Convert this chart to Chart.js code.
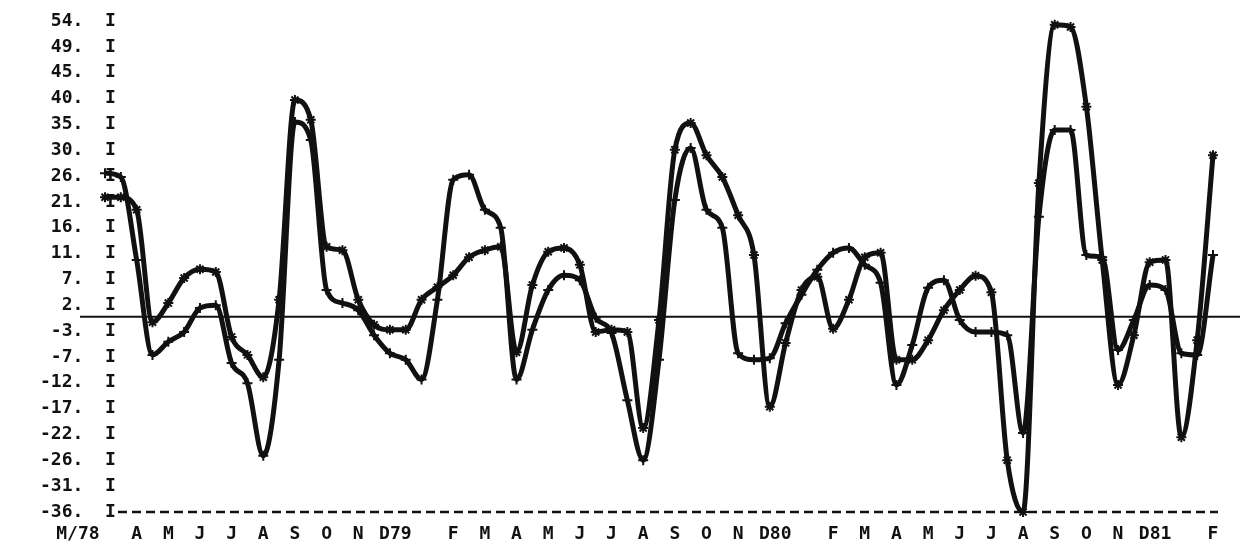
<!DOCTYPE html>
<html>
<head>
<meta charset="utf-8">
<script src="https://cdn.jsdelivr.net/npm/chart.js@4/dist/chart.umd.min.js"></script>
<style>
  html, body { margin: 0; padding: 0; background: #fff; }
  #wrap { width: 1244px; height: 558px; }
</style>
</head>
<body>
<div id="wrap"><canvas id="chart" width="1244" height="558"></canvas></div>
<script>
// === Monthly change plot, M/78 .. F/81 (line printer style) ===

// month labels, one per month (January has no letter, the year sits on D)
const monthLabels = ['M/78', 'A', 'M', 'J', 'J', 'A', 'S', 'O', 'N', 'D79', '', 'F',
  'M', 'A', 'M', 'J', 'J', 'A', 'S', 'O', 'N', 'D80', '', 'F',
  'M', 'A', 'M', 'J', 'J', 'A', 'S', 'O', 'N', 'D81', '', 'F'];

// printed scale rows, top to bottom
const yTickLabels = ['54.', '49.', '45.', '40.', '35.', '30.', '26.', '21.', '16.', '11.',
  '7.', '2.', '-3.', '-7.', '-12.', '-17.', '-22.', '-26.', '-31.', '-36.'];

// readings every half month (month index = position / 2)
const seriesStar = [21.9, 21.9, 19.6, -1.0, 2.5, 7.1, 8.7, 8.2, -3.7, -7.0,
  -11.1, 3.1, 39.7, 36.1, 12.8, 12.2, 3.1, -1.5, -2.4, -2.4,
  3.1, 5.4, 7.6, 10.9, 12.2, 12.8, -6.5, 5.8, 11.9, 12.6,
  9.5, -2.8, -2.4, -2.8, -20.4, -0.6, 30.6, 35.5, 29.6, 25.6,
  18.6, 11.3, -16.5, -4.8, 4.9, 7.3, -2.2, 3.1, 10.9, 11.7,
  -7.9, -7.9, -4.3, 1.2, 4.9, 7.5, 4.5, -26.3, -35.8, 24.5,
  53.5, 53.1, 38.5, 10.4, -12.5, -3.4, 10.0, 10.4, -22.1, -4.3,
  29.6];

const seriesPlus = [26.3, 25.6, 10.4, -7.0, -4.6, -2.8, 1.6, 2.1, -8.5, -12.2,
  -25.5, -7.9, 35.7, 32.4, 4.9, 2.5, 1.2, -3.4, -6.7, -7.9,
  -11.5, 3.1, 25.1, 26.0, 19.6, 16.3, -11.5, -2.4, 4.9, 7.6,
  6.7, -0.2, -3.0, -15.3, -26.3, -7.9, 21.4, 30.9, 19.6, 16.3,
  -6.7, -7.9, -7.6, -1.2, 4.0, 8.6, 11.7, 12.6, 9.5, 6.2,
  -12.5, -5.2, 5.3, 6.7, -0.6, -2.8, -2.8, -3.4, -21.3, 18.3,
  34.2, 34.2, 11.3, 10.9, -6.1, -0.6, 5.8, 4.9, -6.7, -7.0,
  11.3];

const Y_MAX = 54.2;
const Y_MIN = -35.8;
const INK = '#111';
const FONT = { family: "'DejaVu Sans Mono', 'Liberation Mono', monospace", size: 18, weight: 'bold' };

const toPoints = (vals) => vals.map((v, i) => ({ x: i / 2, y: v }));

// zero line and dashed base line, like the printer drew them
const printerLines = {
    id: 'printerLines',
    beforeDatasetsDraw(chart) {
        const { ctx, chartArea, scales } = chart;
        const y0 = scales.y.getPixelForValue(0);
        ctx.save();
        ctx.strokeStyle = INK;
        ctx.lineWidth = 2;
        ctx.beginPath();
        ctx.moveTo(80, y0);
        ctx.lineTo(1240, y0);
        ctx.stroke();

        ctx.lineWidth = 2.5;
        ctx.setLineDash([9, 5]);
        ctx.beginPath();
        ctx.moveTo(chartArea.left + 13, chartArea.bottom);
        ctx.lineTo(chartArea.right + 5, chartArea.bottom);
        ctx.stroke();
        ctx.restore();
    }
};

function lineSet(label, vals, style) {
    return {
        label: label,
        data: toPoints(vals),
        borderColor: INK,
        borderWidth: 5,
        backgroundColor: INK,
        pointStyle: style,
        pointRadius: 5,
        pointBorderWidth: 2,
        pointBorderColor: INK,
        cubicInterpolationMode: 'monotone',
        clip: false
    };
}

new Chart(document.getElementById('chart').getContext('2d'), {
    type: 'line',
    data: {
        datasets: [
            lineSet('*', seriesStar, 'star'),
            lineSet('+', seriesPlus, 'cross')
        ]
    },
    plugins: [printerLines],
    options: {
        responsive: false,
        animation: false,
        layout: { padding: { top: 21, right: 31, bottom: 0, left: 0 } },
        plugins: { legend: { display: false }, tooltip: { enabled: false } },
        scales: {
            x: {
                type: 'linear',
                min: 0,
                max: monthLabels.length - 1,
                grid: { display: false, drawTicks: false },
                border: { display: false },
                afterBuildTicks: (scale) => {
                    scale.ticks = monthLabels.map((_, i) => ({ value: i }));
                },
                afterFit: (scale) => { scale.height = 46; },
                ticks: {
                    autoSkip: false,
                    maxRotation: 0,
                    minRotation: 0,
                    padding: 12,
                    color: INK,
                    font: FONT,
                    callback: (v, i) => {
                        const s = monthLabels[i];
                        if (i === 0) return s + '     ';
                        if (s.length > 1) return ' ' + s;
                        return s;
                    }
                }
            },
            y: {
                type: 'linear',
                min: Y_MIN,
                max: Y_MAX,
                grid: { display: false, drawTicks: false },
                border: { display: false },
                afterBuildTicks: (scale) => {
                    const step = (Y_MAX - Y_MIN) / (yTickLabels.length - 1);
                    scale.ticks = yTickLabels.map((_, k) => ({ value: Y_MAX - k * step }));
                },
                afterFit: (scale) => { scale.width = 105; },
                ticks: {
                    autoSkip: false,
                    mirror: true,
                    padding: -65,
                    color: INK,
                    font: FONT,
                    // fixed-width text: value column, then the printed axis column "I"
                    callback: (v, i) => yTickLabels[i].padStart(4) + '  I'
                }
            }
        }
    }
});
</script>
</body>
</html>
